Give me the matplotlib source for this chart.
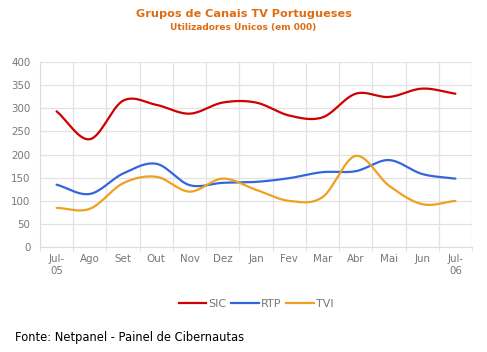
import numpy as np
import matplotlib
matplotlib.use("Agg")
import matplotlib.pyplot as plt
from matplotlib.lines import Line2D

months = ["Jul-\n05", "Ago", "Set", "Out", "Nov", "Dez", "Jan", "Fev", "Mar", "Abr", "Mai", "Jun", "Jul-\n06"]
sic = [293, 233, 316, 307, 288, 312, 312, 284, 280, 331, 324, 342, 331]
rtp = [135, 115, 159, 180, 134, 139, 141, 149, 162, 164, 188, 158, 148]
tvi = [85, 83, 138, 152, 120, 148, 124, 100, 108, 197, 133, 93, 100]
series_names = ["SIC", "RTP", "TVI"]
colors = ["#D00000", "#3366DD", "#F0A020"]


def smooth(y, n=30):
    y = np.asarray(y, float)
    x = np.arange(len(y), dtype=float)
    p = np.concatenate([[2 * y[0] - y[1]], y, [2 * y[-1] - y[-2]]])
    xs, ys = [], []
    for i in range(len(y) - 1):
        p0, p1, p2, p3 = p[i], p[i + 1], p[i + 2], p[i + 3]
        t = np.linspace(0, 1, n, endpoint=False)
        yy = 0.5 * ((2 * p1) + (-p0 + p2) * t + (2 * p0 - 5 * p1 + 4 * p2 - p3) * t ** 2
                    + (-p0 + 3 * p1 - 3 * p2 + p3) * t ** 3)
        xs.append(x[i] + t)
        ys.append(yy)
    xs.append([x[-1]])
    ys.append([y[-1]])
    return np.concatenate(xs), np.concatenate(ys)


fig = plt.figure(figsize=(4.87, 3.52), dpi=100)
ax = fig.add_axes([40 / 487, 1 - 247.3 / 352, 432 / 487, 185.6 / 352])

for vals, c, name in zip([sic, rtp, tvi], colors, series_names):
    xs, ys = smooth(vals)
    ax.plot(xs, ys, color=c, lw=1.6, label=name, solid_capstyle="round")

n = len(months)
ax.set_xlim(-0.5, n - 0.5)
ax.set_ylim(0, 400)
ax.set_yticks(np.arange(0, 401, 50))
ax.set_xticks(np.arange(n))
ax.set_xticklabels(months)
ax.set_xticks(np.arange(-0.5, n, 1), minor=True)
ax.tick_params(axis="x", which="major", length=0, pad=5, labelsize=7.4, colors="#777777")
ax.tick_params(axis="x", which="minor", length=3, color="#DDDDDD", direction="out")
ax.tick_params(axis="y", length=0, pad=7, labelsize=7.4, colors="#777777")
ax.grid(True, axis="y", color="#E2E2E2", lw=0.9)
ax.grid(True, axis="x", which="minor", color="#E2E2E2", lw=0.9)
ax.grid(False, axis="x", which="major")
ax.set_axisbelow(True)
for s in ["top", "right"]:
    ax.spines[s].set_visible(False)
for s in ["left", "bottom"]:
    ax.spines[s].set_color("#DDDDDD")

fig.text(0.5, 1 - 14 / 352, "Grupos de Canais TV Portugueses", ha="center", va="center",
         color="#E06C10", fontsize=8.1, fontweight="bold")
fig.text(0.5, 1 - 27 / 352, "Utilizadores Únicos (em 000)", ha="center", va="center",
         color="#E06C10", fontsize=6.5, fontweight="bold")

handles = [Line2D([], [], color=c, lw=1.6) for c in colors]
fig.legend(handles, series_names, loc="center", bbox_to_anchor=(256 / 487, 1 - 304 / 352), ncol=3,
           frameon=False, fontsize=8, handlelength=2.5, handletextpad=0.15, columnspacing=0.45,
           labelcolor="#777777")
fig.text(15 / 487, 1 - 337 / 352, "Fonte: Netpanel - Painel de Cibernautas", ha="left", va="center",
         color="#000000", fontsize=8.3)

fig.savefig("out.png", dpi=100)
